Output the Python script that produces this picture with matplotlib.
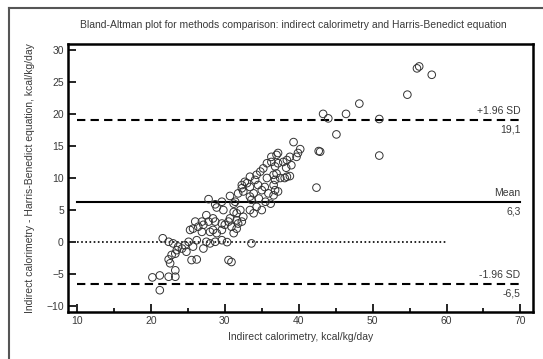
import matplotlib
matplotlib.use("Agg")
import matplotlib.pyplot as plt
from matplotlib.lines import Line2D

plt.rcParams['font.family'] = ['Liberation Sans', 'DejaVu Sans']

# Data: mean of measurement (x) vs difference (y)
x_vals = [56.0, 56.3, 58.0, 54.7, 48.2, 46.4, 50.9, 50.9, 45.1, 43.3, 44.0, 39.3, 42.7, 42.9,
          40.2, 39.9, 37.2, 37.0, 38.8, 39.7, 36.3, 42.4,
          36.3, 36.8, 37.2, 37.9, 38.4, 36.6, 37.0, 36.8, 36.6, 38.1, 38.8, 36.8, 37.2, 36.6,
          27.8, 28.7, 29.6, 30.7, 31.2, 31.4, 31.8, 32.3, 32.5, 33.0, 33.4, 33.4, 33.6, 33.9,
          34.1, 34.3, 34.5, 34.8, 35.2, 35.7, 35.0, 35.4, 35.7, 35.9, 33.4, 33.9, 34.3, 35.0,
          31.2, 31.6, 32.1, 32.5, 30.7, 31.6, 27.5, 28.4, 29.8, 28.9, 35.5, 34.6, 36.2,
          30.9, 33.6, 31.2, 31.6, 31.8, 30.9, 32.3,
          21.6, 21.2, 21.2, 22.4, 23.3, 23.3, 22.6, 22.4, 22.8, 23.3, 23.5, 23.7, 24.2, 24.6,
          23.0, 22.4, 25.5, 26.2, 27.1, 25.7, 25.1, 26.2, 27.5, 28.0, 28.7, 29.6, 30.3, 30.5,
          25.3, 25.7, 26.4, 26.9, 27.1, 28.0, 28.4, 28.9, 29.6, 30.0, 30.5, 26.0, 26.9, 27.8,
          28.7, 29.6, 20.2, 24.8,
          33.4, 32.7, 32.3, 37.5, 38.4, 38.3, 39.0]
y_vals = [27.1, 27.4, 26.1, 23.0, 21.6, 20.0, 19.2, 13.5, 16.8, 20.0, 19.3, 15.6, 14.2, 14.1,
          14.5, 13.9, 13.9, 13.6, 13.3, 13.3, 13.3, 8.5,
          12.5, 11.8, 12.3, 12.5, 12.8, 10.5, 10.7, 9.7, 8.9, 10.0, 10.3, 8.1, 7.9, 7.3,
          6.7, 5.9, 6.3, 7.2, 6.0, 6.3, 7.6, 8.4, 7.9, 9.2, 8.6, 7.1, 6.6, 7.6,
          9.7, 10.5, 8.9, 11.0, 11.5, 12.3, 8.1, 8.6, 10.0, 7.6, 5.0, 4.5, 5.5, 5.0,
          4.7, 4.5, 5.0, 3.95, 3.7, 3.4, 4.2, 3.7, 5.0, 5.4, 6.3, 6.8, 6.0,
          -3.1, -0.2, 1.4, 2.1, 2.9, 2.4, 3.2,
          0.6, -5.2, -7.5, -5.4, -5.4, -4.4, -3.3, -2.7, -2.0, -1.8, -1.25, -0.7, -1.0, -0.5,
          -0.2, 0.05, -2.8, -2.7, -1.0, -0.7, 0.05, 0.3, 0.05, -0.2, 0.05, 0.3, 0.0, -2.8,
          1.9, 2.1, 2.4, 1.6, 2.7, 1.6, 1.9, 1.4, 1.9, 2.7, 3.2, 3.2, 3.2, 3.2,
          3.2, 2.9, -5.5, -1.5,
          10.2, 9.4, 8.9, 10.0, 10.2, 11.6, 12.0]

mean_diff = 6.3
upper_loa = 19.1
lower_loa = -6.5
mean_label = "6,3"
upper_label = "19,1"
lower_label = "-6,5"

title = "Bland-Altman plot for methods comparison: indirect calorimetry and Harris-Benedict equation"
xlabel = "Indirect calorimetry, kcal/kg/day"
ylabel = "Indirect calorimetry - Harris-Benedict equation, kcal/kg/day"

txt = '#3a3a3a'
fig = plt.figure(figsize=(5.43, 3.59), dpi=100)
ax = fig.add_axes([68/543, 1 - 312/359, (533 - 68)/543, (312 - 44)/359])

# outer frame
fig.add_artist(Line2D([9/543, 9/543], [0, 1 - 8/359], color='#555555', lw=1.5,
                      transform=fig.transFigure))
fig.add_artist(Line2D([9/543, 1], [1 - 8/359, 1 - 8/359], color='#555555', lw=1.5,
                      transform=fig.transFigure))

ax.scatter(x_vals, y_vals, s=30, facecolors='none', edgecolors='#333333', linewidths=0.7,
           zorder=3)

ax.plot([10, 70], [mean_diff, mean_diff], color='black', lw=1.5, zorder=2)
ax.plot([10, 70], [upper_loa, upper_loa], color='black', lw=1.5, dashes=(4, 2.5), zorder=2)
ax.plot([10, 70], [lower_loa, lower_loa], color='black', lw=1.5, dashes=(4, 2.5), zorder=2)
ax.plot([10, 60], [0, 0], color='black', lw=1.2, dashes=(1, 1.5), zorder=2)

fs = 7.5
for yv, top, bot in [(upper_loa, "+1.96 SD", upper_label),
                     (mean_diff, "Mean", mean_label),
                     (lower_loa, "-1.96 SD", lower_label)]:
    ax.text(70, yv + 0.6, top, ha='right', va='bottom', fontsize=fs, color=txt)
    ax.text(70, yv - 0.7, bot, ha='right', va='top', fontsize=fs, color=txt)

ax.set_xlim(8.78, 71.7)
ax.set_ylim(-10.9, 30.9)
ax.set_xticks([10, 20, 30, 40, 50, 60, 70])
ax.set_xticks([15, 25, 35, 45, 55, 65], minor=True)
ax.set_yticks([-10, -5, 0, 5, 10, 15, 20, 25, 30])
ax.tick_params(axis='both', which='major', direction='in', length=6, width=1.2,
               labelsize=fs, labelcolor=txt, pad=3)
ax.tick_params(axis='x', which='minor', direction='in', length=3, width=1.2)
for s in ax.spines.values():
    s.set_linewidth(1.8)

ax.set_xlabel(xlabel, fontsize=fs, color=txt, labelpad=4)
fig.text(30/543, (1 - 312/359 + 1 - 44/359) / 2, ylabel, rotation=90, ha='center',
         va='center', fontsize=fs, color=txt)
fig.text(293/543, 1 - 25/359, title, ha='center', va='center', fontsize=fs, color=txt)

fig.savefig("out.png", dpi=100)
